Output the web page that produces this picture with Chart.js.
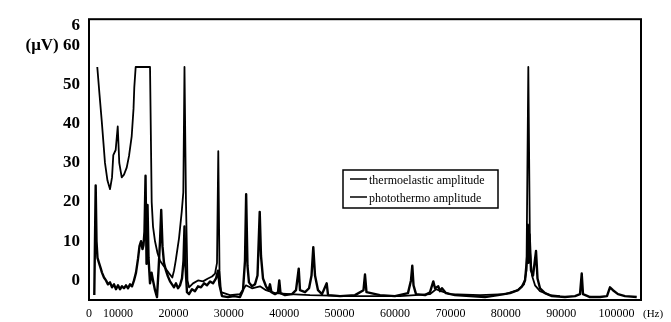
<!DOCTYPE html>
<html>
<head>
<meta charset="utf-8">
<title>thermoelastic / photothermo amplitude</title>
<script src="https://cdn.jsdelivr.net/npm/chart.js@4.4.1/dist/chart.umd.min.js"></script>
<style>
  html, body { margin: 0; padding: 0; background: #fff; }
  #chart { display: block; }
</style>
</head>
<body>
<canvas id="chart" width="671" height="322"></canvas>
<script>
// frequency (Hz) and amplitude (uV)
const thermoFreq = [6260, 6660, 7060, 7380, 7650, 8100, 8560, 8920, 9150, 9580, 9950, 10230, 10670, 11080, 11570, 11990, 12470, 12800, 12940, 13190,
  15780, 16080, 16320, 16680, 17130, 17580, 18480, 19120, 19800, 20110, 20410, 21010, 21500, 21790, 22000, 22270, 22540, 22820, 23540, 24440,
  25340, 26240, 26970, 27510, 27870, 28100, 28320, 28590, 30210, 32020, 32740, 33100, 34180, 35630, 36710, 38340, 41050, 44660, 51880, 60910,
  66330, 67400, 68300, 69920, 75340, 79860, 82200, 83290, 83730, 84060, 84360, 84720, 85270, 86170, 87970, 89770];
const thermoAmp = [54.5, 47.5, 40.8, 35, 30, 25.5, 23.3, 26.3, 32, 33.3, 39.3, 30, 26.3, 27, 28.8, 31.8, 36.8, 43.8, 49.3, 54.5,
  54.5, 20, 13.75, 10, 7, 5, 3.25, 2, 0.75, 2.5, 5, 10.75, 17.5, 22.5, 54.5, 20, 0, -1.75, -0.75, 0,
  -0.25, 0.5, 1, 1.75, 4.5, 33, 2.5, -3, -3.75, -3.5, -2, -1.25, -2, -1.5, -2.5, -3.25, -3.5, -3.75, -4, -4,
  -3.5, -2.25, -2.75, -3.5, -3.75, -3.5, -2.5, -1, 2.5, 54.5, 7.5, 1.25, -1.25, -2.75, -3.75, -4];

const photoFreq = [5720, 5970, 6120, 6300, 6570, 6840, 7110, 7470, 7830, 8190, 8560, 8920, 9280, 9640, 10000, 10360, 10720, 11080, 11440, 11810,
  12170, 12530, 12890, 13250, 13610, 13880, 14150, 14420, 14600, 14780, 14970, 15150, 15330, 15510, 15780, 16050, 16320, 16680, 17040, 17310,
  17580, 17800, 18030, 18300, 18660, 19020, 19390, 19750, 20110, 20470, 20830, 21190, 21550, 21820, 22000, 22180, 22450, 22820, 23360, 23900,
  24440, 24980, 25520, 26060, 26610, 27150, 27690, 28050, 28320, 28770, 29850, 30940, 32020, 32560, 32920, 33130, 33370, 33640, 34180, 34720,
  35180, 35580, 35810, 36170, 36710, 37160, 37430, 37700, 38340, 38880, 39110, 39330, 40140, 41410, 42130, 42620, 42850, 43760, 44480, 44930,
  45250, 45560, 46100, 46820, 47670, 47910, 50080, 52780, 54310, 54580, 54850, 57290, 59990, 62340, 62880, 63120, 63340, 63790, 65420, 66320,
  66910, 67220, 67810, 68120, 68480, 69200, 70830, 73540, 76250, 78590, 80760, 82200, 82930, 83470, 83870, 83960, 84100, 84280, 84550, 84910,
  85450, 85720, 86170, 87070, 88330, 90680, 92490, 93390, 93700, 93930, 95200, 97000, 98260, 98800, 99340, 100250, 101510, 103630];
const photoAmp = [-3.75, 24.25, 10, 5.75, 4.5, 3.25, 2, 0.75, 0, -1, -0.5, -1.75, -1, -2.25, -1.25, -2.25, -1.5, -2, -1.25, -2,
  -1, -1.5, 0, 2, 5.5, 8.75, 10, 8, 9, 12.5, 26.75, 4.25, 19.25, 5.75, -0.75, 2, 0, -2.5, -4.25, 2.5,
  10, 18, 8.75, 4.5, 2.5, 1, -0.25, -1, -1.75, -0.75, -2, -1.25, 0.5, 5, 13.75, 3.75, -3, -3.5, -2.25, -2.75,
  -1.5, -1.75, -0.75, -1.25, -0.25, -0.75, 0.5, 2.5, -1.25, -4, -4.25, -4, -4.25, -2.5, 5, 22, 3.75, -0.5, -1.5, -1,
  1.25, 17.5, 6.25, 0.5, -1.5, -2.5, -1, -3, -3.5, -3, 0, -3.25, -3.75, -3.5, -2.5, 3, -2.5, -3, -2, 1.25,
  8.5, 1.25, -2.5, -3.5, -0.75, -3.75, -4, -3.75, -2.5, 1.5, -3, -3.75, -4, -3.25, 0, 3.75, -1.25, -3.5, -3.75, -3,
  -0.25, -2, -1.5, -2.75, -2, -3.25, -3.75, -4, -4.25, -3.75, -3.25, -2.5, -1.5, 0, 6.25, 14.25, 4.5, 11.75, 2.5, 1.25,
  7.5, 0.5, -2, -3.25, -4, -4.25, -4, -3.5, 1.75, -3.5, -4.25, -4.25, -4, -1.75, -2.5, -3.5, -4, -4.25];

const seriesNames = ['thermoelastic amplitude', 'photothermo amplitude'];
const xTicks = [10000, 20000, 30000, 40000, 50000, 60000, 70000, 80000, 90000, 100000];
const yTicks = [0, 10, 20, 30, 40, 50, 60, 65];
const xUnit = '(Hz)';
const yUnit = '(μV)';

const xMin = 4765, xMax = 104400;
const serif = '"Liberation Serif", "DejaVu Serif", serif';

function zip(xs, ys){ return xs.map((x,i)=>({x:x, y:ys[i]})); }

// box round the plot area
const frame = {
  id: 'frame',
  beforeDatasetsDraw(chart){
    const {ctx, chartArea:a} = chart;
    ctx.save();
    ctx.strokeStyle = '#000'; ctx.lineWidth = 2;
    ctx.strokeRect(a.left, a.top, a.right-a.left, a.bottom-a.top);
    ctx.restore();
  }
};

// legend box inside the plot + unit on the x axis
const boxLegend = {
  id: 'boxLegend',
  afterDraw(chart){
    const ctx = chart.ctx;
    ctx.save();
    ctx.strokeStyle = '#000'; ctx.lineWidth = 1.5;
    ctx.strokeRect(343, 170, 155, 38);
    ctx.font = '12px ' + serif; ctx.fillStyle = '#000';
    ctx.textBaseline = 'middle'; ctx.textAlign = 'left';
    chart.data.datasets.forEach((ds,i)=>{
      const y = 181 + i*18;
      ctx.beginPath(); ctx.lineWidth = 1.5;
      ctx.moveTo(350, y-2); ctx.lineTo(367, y-2); ctx.stroke();
      ctx.fillText(ds.label, 369, y);
    });
    ctx.font = '11px ' + serif;
    ctx.fillText(xUnit, 643, 314);
    ctx.restore();
  }
};

new Chart(document.getElementById('chart'), {
  type: 'line',
  data: {
    datasets: [
      {label: seriesNames[0], data: zip(thermoFreq, thermoAmp), borderColor:'#000', borderWidth:1.8},
      {label: seriesNames[1], data: zip(photoFreq, photoAmp), borderColor:'#000', borderWidth:2.4}
    ]
  },
  options: {
    responsive: false,
    animation: false,
    events: [],
    layout: {padding: {top: 13, right: 30, left: 0, bottom: 0}},
    elements: {point: {radius: 0}, line: {tension: 0, borderJoinStyle: 'round'}},
    plugins: {legend: {display: false}, tooltip: {enabled: false}},
    scales: {
      x: {
        type: 'linear', min: xMin, max: xMax,
        grid: {display: false, drawTicks: false}, border: {display: false},
        afterBuildTicks: s => { s.ticks = [xMin].concat(xTicks).map(v=>({value:v})); },
        afterFit: s => { s.height = 22; },
        ticks: {
          autoSkip: false, maxRotation: 0, padding: 7, color: '#000',
          font: {family: serif, size: 12},
          callback: v => v === xMin ? '0' : String(v)
        }
      },
      y: {
        min: -5, max: 66.7,
        grid: {display: false, drawTicks: false}, border: {display: false},
        afterBuildTicks: s => { s.ticks = yTicks.map(v=>({value:v})); },
        afterFit: s => { s.width = 89; },
        ticks: {
          autoSkip: false, padding: 9, color: '#000',
          font: {family: serif, size: 17, weight: 'bold'},
          callback: v => v === 65 ? '6' : (v === 60 ? yUnit + ' 60' : String(v))
        }
      }
    }
  },
  plugins: [frame, boxLegend]
});
</script>
</body>
</html>
